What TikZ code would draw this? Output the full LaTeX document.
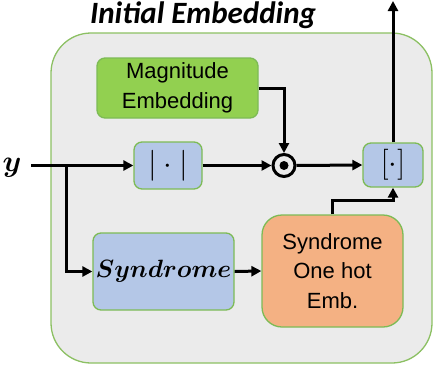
\RequirePackage{fix-cm}
\documentclass[tikz,border=0pt]{standalone}
\usepackage{fontspec}
\usepackage{amsmath,bm}
\setmainfont{Liberation Sans}
\newfontfamily\titlefont{Carlito}
\usetikzlibrary{arrows.meta,calc}
\definecolor{outerfill}{HTML}{EBEBEB}
\definecolor{outerdraw}{HTML}{8CC063}
\definecolor{boxdraw}{HTML}{7DBB55}
\definecolor{greenfill}{HTML}{92D050}
\definecolor{bluefill}{HTML}{B4C7E7}
\definecolor{orangefill}{HTML}{F4B183}
\tikzset{
  blk/.style={draw=boxdraw, line width=1.3pt, rounded corners=8pt, inner sep=0pt, align=center,
    font=\fontsize{22}{29.5}\selectfont},
  conn/.style={line width=3pt, -{Triangle[length=10pt,width=10pt]}},
}
\begin{document}
\begin{tikzpicture}[x=1pt,y=-1pt]
\useasboundingbox (0,0) rectangle (436,364);
\draw[fill=outerfill, draw=outerdraw, line width=1.3pt, rounded corners=40pt] (51,33) rectangle (432,363);
\node (title) at (203,15) {\titlefont\bfseries\itshape\fontsize{31}{34}\selectfont Initial Embedding};
\node[blk, fill=greenfill, minimum width=161pt, minimum height=60pt] (mag) at (177.5,88) {Magnitude\\Embedding};
\node[blk, fill=bluefill, minimum width=68pt, minimum height=47pt] (abs) at (168,165.5) {\fontsize{31}{31}\selectfont$|\cdot|$};
\node[blk, fill=bluefill, minimum width=60pt, minimum height=44pt] (cat) at (393,165) {\fontsize{31}{31}\selectfont$[\cdot]$};
\node[blk, fill=bluefill, minimum width=141pt, minimum height=77pt] (syn) at (163.5,271.5) {\fontsize{25}{30}\selectfont$\bm{Syndrome}$};
\node[blk, fill=orangefill, rounded corners=20pt, minimum width=141pt, minimum height=112pt] (one) at (332.5,271) {Syndrome\\One hot\\Emb.};
\node[circle, draw, line width=3pt, minimum size=22pt, inner sep=0pt] (odot) at (284,165.5) {};
\fill (odot.center) circle (4.5pt);
\node (y) at (12,168) {\fontsize{30}{30}\selectfont$\bm{y}$};
\coordinate (yin) at (31,165.5);
\coordinate (br) at (66,165.5);
\coordinate (j) at (393,200);
\coordinate (out) at (393,1);
\draw[conn] (yin) -- (abs.west);
\draw[conn] (br) |- (syn.west);
\draw[conn] (abs.east) -- (odot.west);
\draw[conn] (odot.east) -- (cat.west);
\draw[conn] (mag.east) -| (odot.north);
\draw[conn] (syn.east) -- (one.west);
\draw[conn] (one.north) |- (j) -- (cat.south);
\draw[conn] (cat.north) -- (out);
\end{tikzpicture}
\end{document}
